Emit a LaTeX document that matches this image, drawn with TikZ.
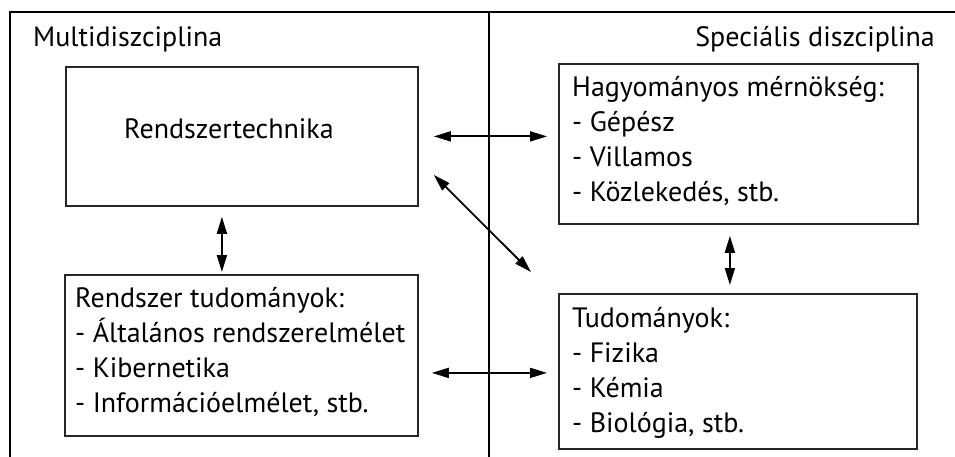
\documentclass[tikz,border=0pt]{standalone}
\usepackage{fontspec}
\setmainfont{PT Sans}
\usetikzlibrary{arrows.meta,calc}
\begin{document}
\begin{tikzpicture}[x=1pt,y=-1pt,
  frame/.style={line width=1.8pt,black},
  box/.style={draw=black!85,line width=1.8pt,inner sep=0pt,anchor=north west},
  label/.style={font=\fontsize{28}{35}\selectfont,inner sep=0pt},
  link/.style={line width=1.8pt,{Triangle[length=17pt,width=10pt]}-{Triangle[length=17pt,width=10pt]}}
]
\useasboundingbox (0,0) rectangle (955,457);

% outer frame and the dividing line
\draw[frame] (10,457) -- (10,12) -- (955,12);
\draw[frame] (489,12) -- (489,457);

% column headings
\node[label,anchor=base west] (multi) at (33,47) {Multidiszciplina};
\node[label,anchor=base east] (spec) at (935,47) {Speciális diszciplina};

% boxes
\node[box,minimum width=352pt,minimum height=139pt] (rt)  at (65,66)  {};
\node[box,minimum width=359pt,minimum height=160pt] (hm)  at (558,63) {};
\node[box,minimum width=353pt,minimum height=161pt] (rst) at (64,274) {};
\node[box,minimum width=358pt,minimum height=155pt] (tud) at (558,293) {};

% box texts
\node[label,anchor=base] (rtt) at (229,139) {Rendszertechnika};
\node[label,anchor=base west] (hmt) at (572,97)
  {\begin{tabular}[t]{@{}l@{}}Hagyományos mérnökség:\\- Gépész\\- Villamos\\- Közlekedés, stb.\end{tabular}};
\node[label,anchor=base west] (rstt) at (75,307)
  {\begin{tabular}[t]{@{}l@{}}Rendszer tudományok:\\- Általános rendszerelmélet\\- Kibernetika\\- Információelmélet, stb.\end{tabular}};
\node[label,anchor=base west] (tudt) at (572,327)
  {\begin{tabular}[t]{@{}l@{}}Tudományok:\\- Fizika\\- Kémia\\- Biológia, stb.\end{tabular}};

% connectors
\draw[link,shorten <=15pt,shorten >=11pt] (rt.east) -- (rt.east -| hm.west);
\draw[link] ($(rt.east)+(15,38.5)$) -- ($(tud.north west)+(-27,-21)$);
\draw[link] ($(rt.south)+(-20,10)$) -- ($(rst.north)+(-19.5,-2)$);
\draw[link] ($(hm.south)+(-8.5,11)$) -- ($(tud.north)+(-8,-8)$);
\draw[link] ($(tud.west -| rst.east)+(13,1.5)$) -- ($(tud.west)+(-11,1.5)$);
\end{tikzpicture}
\end{document}
